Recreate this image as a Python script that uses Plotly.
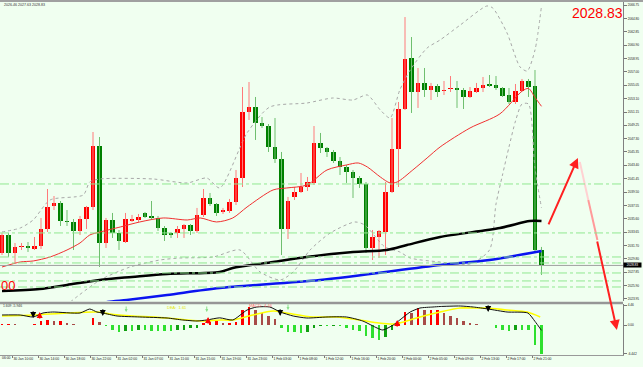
import plotly.graph_objects as go

# ---------------- data ----------------
bars = list(range(84))
opens = [2030.64, 2033.26, 2030.64, 2031.52, 2031.66, 2031.23, 2031.66, 2034.14, 2037.49, 2037.92,
         2035.30, 2035.16, 2033.85, 2035.59, 2037.34, 2046.22, 2032.10, 2035.45, 2033.56, 2032.24,
         2035.30, 2035.45, 2036.47, 2036.03, 2035.74, 2034.28, 2033.56, 2033.56, 2034.14, 2034.72,
         2033.85, 2036.18, 2038.65, 2037.78, 2036.61, 2036.76, 2038.07, 2041.56, 2051.17, 2051.90,
         2049.57, 2049.13, 2046.08, 2044.33, 2034.14, 2038.80, 2039.52, 2040.25, 2040.84, 2046.66,
         2045.93, 2045.35, 2044.04, 2043.16, 2042.44, 2041.56, 2040.69, 2031.37, 2032.97, 2033.70,
         2039.52, 2045.79, 2051.61, 2059.04, 2054.08, 2055.40, 2054.38, 2054.96, 2054.23, 2054.52,
         2054.67, 2054.38, 2053.36, 2054.08, 2054.67, 2055.25, 2055.10, 2054.67, 2053.65, 2052.63,
         2054.23, 2055.69, 2054.96, 2031.08]
highs = [2033.56, 2033.56, 2032.10, 2032.10, 2032.24, 2032.97, 2035.74, 2039.96, 2038.94, 2038.21,
         2036.90, 2035.59, 2036.03, 2037.49, 2048.26, 2047.53, 2035.74, 2036.47, 2033.99, 2036.47,
         2036.18, 2036.32, 2036.61, 2038.21, 2036.03, 2034.57, 2033.70, 2034.57, 2034.86, 2034.86,
         2037.20, 2039.96, 2039.38, 2037.92, 2037.20, 2038.51, 2042.73, 2054.81, 2055.54, 2053.36,
         2050.44, 2049.42, 2050.30, 2045.35, 2038.80, 2040.25, 2042.29, 2041.71, 2049.13, 2048.12,
         2046.08, 2045.64, 2044.62, 2043.46, 2042.73, 2041.85, 2040.98, 2033.99, 2033.99, 2040.98,
         2050.30, 2052.63, 2065.00, 2062.09, 2057.58, 2057.58, 2055.40, 2055.25, 2055.69, 2056.41,
         2055.69, 2054.67, 2054.81, 2055.40, 2056.27, 2056.56, 2056.41, 2054.81, 2054.67, 2055.25,
         2055.98, 2055.98, 2057.29, 2031.52]
lows = [2030.35, 2030.06, 2029.19, 2031.08, 2030.79, 2031.08, 2031.23, 2033.70, 2036.90, 2034.57,
        2034.57, 2031.08, 2033.26, 2034.14, 2036.90, 2028.60, 2031.37, 2032.83, 2031.08, 2032.10,
        2035.16, 2035.16, 2035.74, 2035.45, 2033.85, 2032.39, 2032.83, 2032.83, 2032.83, 2033.26,
        2033.56, 2035.88, 2037.49, 2036.03, 2036.32, 2036.47, 2037.63, 2040.25, 2050.01, 2047.10,
        2048.84, 2045.35, 2043.75, 2030.35, 2032.68, 2038.36, 2039.38, 2039.67, 2040.54, 2045.20,
        2044.62, 2043.75, 2042.00, 2040.84, 2038.65, 2040.11, 2030.64, 2029.62, 2029.91, 2030.35,
        2039.38, 2040.25, 2051.46, 2051.03, 2051.76, 2053.36, 2052.92, 2053.36, 2053.65, 2054.08,
        2051.76, 2051.61, 2053.21, 2053.94, 2054.08, 2054.81, 2054.38, 2053.36, 2052.34, 2052.34,
        2054.23, 2053.36, 2030.79, 2027.44]
closes = [2033.26, 2030.64, 2031.52, 2031.66, 2031.37, 2031.66, 2034.14, 2037.34, 2037.92, 2035.30,
          2035.16, 2033.85, 2035.59, 2037.34, 2046.22, 2032.10, 2035.45, 2033.56, 2032.39, 2035.59,
          2035.59, 2035.88, 2035.88, 2035.74, 2034.28, 2033.26, 2033.26, 2034.14, 2034.72, 2033.85,
          2036.18, 2038.65, 2037.78, 2036.47, 2036.90, 2038.07, 2041.56, 2051.17, 2051.90, 2049.57,
          2049.13, 2046.08, 2044.33, 2034.14, 2038.21, 2039.52, 2040.25, 2040.98, 2046.66, 2045.93,
          2045.35, 2044.04, 2043.16, 2042.44, 2041.56, 2040.69, 2031.37, 2032.97, 2033.85, 2039.52,
          2045.79, 2051.61, 2058.89, 2054.08, 2055.40, 2054.38, 2054.96, 2054.08, 2054.38, 2054.67,
          2054.38, 2053.36, 2054.23, 2054.67, 2055.10, 2054.96, 2054.67, 2053.50, 2052.63, 2054.23,
          2055.69, 2054.81, 2031.08, 2028.83]

# moving averages / bands: (bar position, price)
ma_red_x = [0, 2.8, 4.8, 7.4, 10, 12, 13.5, 15.1, 18.2, 21.2, 24.8, 28.5, 30.5, 33, 35.5, 37.7, 41.7,
            43.8, 46.9, 50, 53, 54.8, 56.2, 58.2, 59.7, 60.8, 63.2, 65.4, 67.4, 72, 76.6, 80, 81, 82, 83]
ma_red_y = [2028.6, 2029.33, 2029.48, 2030.06, 2031.08, 2032.10, 2033.26, 2033.70, 2034.43, 2035.16,
            2035.74, 2035.45, 2035.74, 2035.16, 2035.74, 2037.34, 2039.82, 2040.11, 2040.54, 2042.73,
            2043.46, 2043.75, 2043.17, 2041.71, 2040.84, 2040.98, 2042.73, 2044.48, 2046.08, 2048.84,
            2050.9, 2054.2, 2054.6, 2053.3, 2052.0]
ma_black_x = [0, 5.8, 10, 15, 20, 25.4, 33.5, 35.5, 41.7, 46.9, 54, 59.2, 62.3, 67.4, 76.6, 81.2, 83]
ma_black_y = [2025.11, 2025.40, 2025.99, 2026.71, 2027.15, 2027.59, 2027.88, 2028.46, 2029.33, 2030.06,
              2030.79, 2031.08, 2031.81, 2032.97, 2034.28, 2035.30, 2035.30]
ma_blue_x = [12, 16.2, 19.2, 25.4, 33.5, 48.9, 67.4, 75, 83]
ma_blue_y = [2022.5, 2023.51, 2023.80, 2024.53, 2025.55, 2026.71, 2028.90, 2029.62, 2030.93]
bb_up_x = [0, 2.8, 4.8, 7.4, 12.5, 13.5, 15.1, 23.2, 28.5, 31.5, 33.5, 37.7, 41.2, 46.9, 50.9, 54,
           56.2, 58.2, 59.7, 61.2, 62.8, 65.4, 67.4, 70.5, 74.6, 75.5, 77.7, 79.7, 80.8, 82, 83]
bb_up_y = [2033.70, 2034.28, 2035.45, 2038.36, 2039.09, 2040.98, 2041.42, 2041.42, 2040.84, 2041.56,
           2040.11, 2048.12, 2051.90, 2052.48, 2053.21, 2052.92, 2053.65, 2051.46, 2050.30, 2054.38,
           2057.29, 2060.49, 2061.66, 2063.84, 2066.61, 2066.32, 2062.68, 2057.73, 2057.14, 2060.20,
           2066.60]
bb_lo_x = [10.5, 15.1, 19.7, 24.3, 27.4, 32.5, 36.6, 39.7, 42.8, 44.8, 47.4, 50.5, 54.3, 55.8, 58.9,
           61.2, 62.8, 67.4, 72, 75, 76, 77, 78, 79, 80, 81, 82, 83]
bb_lo_y = [2023.51, 2026.71, 2028.60, 2029.62, 2029.91, 2030.06, 2031.08, 2027.88, 2026.71, 2027.88,
           2031.08, 2033.56, 2035.16, 2034.72, 2031.52, 2030.79, 2029.91, 2029.33, 2029.04, 2031.08,
           2037.78, 2042.00, 2046.08, 2049.86, 2052.34, 2052.34, 2043.00, 2037.20]

level_prices = [2040.69, 2033.56, 2030.06, 2029.19, 2027.73, 2026.57, 2025.69]
bid_price = 2028.83

# MACD sub-window
hist_values = [0.2, 0.2, 0.15, 0.1, 0.1, 0.15, 0.9, 1.1, 0.9, 0.9, 0.5, 0.25, 0.1, 0.1, 1.5, 0.75,
               -0.3, -1.2, -1.5, -1.3, -1.3, -1.1, -1.1, -1.3, -1.3, -1.3, -1.3, -1.2, -1.1, -0.75,
               -0.6, 0.4, 0.6, 1.0, 0.35, 0.4, 0.7, 3.3, 4.1, 3.3, 2.7, 1.9, 1.3, -0.7, -1.5, -1.5,
               -1.7, -1.5, -0.7, -0.3, -0.3, -0.2, -0.3, -0.6, -1.1, -1.3, -2.5, -3.0, -3.3, -2.7,
               -1.1, 0.7, 3.0, 2.6, 3.7, 3.3, 3.3, 3.3, 2.6, 1.9, 1.5, 1.0, 0.5, 0.2, 0.1, -0.1,
               -0.7, -1.1, -1.3, -1.1, -1.1, -1.1, -4.5, -6.5]
macd_x = [0, 2.8, 4.8, 6.3, 7.8, 12, 13.5, 14.6, 15.5, 17.7, 21.2, 25.4, 27.8, 30, 31.5, 33.5, 35.5,
          37.7, 39.2, 41.2, 42.8, 44.8, 46.9, 50, 53, 55.5, 57.7, 58.6, 60.2, 61.2, 62.8, 64.3, 66.3,
          67.4, 70.5, 72.5, 74.8, 77.7, 80.9, 82, 83]
macd_y = [2.23, 2.23, 1.79, 2.68, 2.90, 2.68, 3.57, 2.90, 2.68, 2.01, 1.79, 1.56, 1.12, 0.89, 1.12,
          1.6, 1.12, 3.35, 4.02, 4.02, 2.90, 2.01, 1.56, 1.79, 1.79, 0.89, -0.67, -1.12, 0.0, 1.12,
          2.90, 3.79, 4.02, 4.13, 4.24, 4.02, 3.57, 2.90, 2.68, 0.8, -1.2]
signal_x = [0, 4.8, 10, 14.6, 16.6, 20.2, 25.4, 30.5, 33.5, 35.5, 38.6, 41.7, 43.8, 47.8, 51.5, 55,
            58, 60.2, 61.2, 64.3, 67.4, 70.5, 72.5, 74.6, 77.7, 80.8, 82.8]
signal_y = [2.01, 2.23, 2.68, 2.90, 2.46, 2.01, 1.56, 0.89, 1.12, 1.12, 2.23, 3.13, 2.68, 1.79, 1.79,
            1.12, 0.45, 0.22, 0.45, 1.79, 2.90, 3.79, 3.79, 3.79, 3.35, 2.90, 1.79]
sell_marks = [(4.8, 1.56), (15.5, 2.0), (42.8, 2.0), (74.8, 2.9)]
buy_marks = [(5.8, 2.9), (31.7, 1.79), (60.8, 1.12)]
hint_marks = [(19.1, 2.9), (31.5, 2.9), (44.0, 3.35)]

price_tick_text = ["2066.75", "2064.80", "2062.85", "2060.90", "2058.95", "2057.00", "2055.05",
                   "2053.10", "2051.15", "2049.25", "2047.30", "2045.35", "2043.40", "2041.45",
                   "2039.50", "2037.55", "2035.60", "2033.65", "2031.70", "2029.80", "2027.85",
                   "2025.90", "2023.95"]
macd_tick_vals = [4.46, 0.0, -6.442]
macd_tick_text = ["4.46", "0.00", "-6.442"]
time_labels = ["30 Jan 10:00", "30 Jan 14:00", "30 Jan 18:00", "30 Jan 22:00", "31 Jan 02:00",
               "31 Jan 07:00", "31 Jan 11:00", "31 Jan 15:00", "31 Jan 19:00", "31 Jan 23:00",
               "1 Feb 03:00", "1 Feb 08:00", "1 Feb 12:00", "1 Feb 16:00", "1 Feb 20:00",
               "2 Feb 00:00", "2 Feb 05:00", "2 Feb 09:00", "2 Feb 13:00", "2 Feb 17:00",
               "2 Feb 21:00"]
first_label_bar = 1.6
bars_per_label = 4

# ---------------- layout helpers ----------------
W_PLOT, H_PLOT = 623.0, 355.0
def px(x):
    return x / W_PLOT
def py(y):
    return 1 - y / H_PLOT

FONT = "Liberation Sans, Arial, sans-serif"
BG = "#F0FFF0"

fig = go.Figure()

# bands (dotted grey)
for bx, byv in ((bb_up_x, bb_up_y), (bb_lo_x, bb_lo_y)):
    fig.add_trace(go.Scatter(x=bx, y=byv, mode="lines", line=dict(color="#A8A8A8", width=1, dash="dot",
                  shape="spline", smoothing=0.7), xaxis="x", yaxis="y", hoverinfo="skip"))

# wicks
up_idx = [i for i in bars if closes[i] >= opens[i]]
dn_idx = [i for i in bars if closes[i] < opens[i]]
def wick_xy(idx):
    xs, ys = [], []
    for i in idx:
        xs += [i, i, None]
        ys += [lows[i], highs[i], None]
    return xs, ys
wx, wy = wick_xy(up_idx)
fig.add_trace(go.Scatter(x=wx, y=wy, mode="lines", line=dict(color="#FF7A7A", width=1), xaxis="x", yaxis="y"))
wx, wy = wick_xy(dn_idx)
fig.add_trace(go.Scatter(x=wx, y=wy, mode="lines", line=dict(color="#6FBF6F", width=1), xaxis="x", yaxis="y"))

# bodies
fig.add_trace(go.Bar(x=up_idx, base=[opens[i] for i in up_idx],
                     y=[max(closes[i] - opens[i], 0.13) for i in up_idx], width=0.68,
                     marker=dict(color="#FF0000", line=dict(width=0)), xaxis="x", yaxis="y"))
fig.add_trace(go.Bar(x=dn_idx, base=[closes[i] for i in dn_idx],
                     y=[max(opens[i] - closes[i], 0.13) for i in dn_idx], width=0.68,
                     marker=dict(color="#008000", line=dict(width=0)), xaxis="x", yaxis="y"))

# moving averages
fig.add_trace(go.Scatter(x=ma_red_x, y=ma_red_y, mode="lines",
              line=dict(color="#F03030", width=1, shape="spline", smoothing=0.8), xaxis="x", yaxis="y"))
fig.add_trace(go.Scatter(x=ma_black_x, y=ma_black_y, mode="lines",
              line=dict(color="#000000", width=2.5, shape="spline", smoothing=0.8), xaxis="x", yaxis="y"))
fig.add_trace(go.Scatter(x=ma_blue_x, y=ma_blue_y, mode="lines",
              line=dict(color="#0A14F0", width=2.5, shape="spline", smoothing=0.8), xaxis="x", yaxis="y"))

# pale part of the forecast down line
fig.add_trace(go.Scatter(x=[88.9, 90.2], y=[2043.89, 2038.36], mode="lines",
              line=dict(color="#FFD2D2", width=2), xaxis="x", yaxis="y"))
fig.add_trace(go.Scatter(x=[90.2, 91.6], y=[2038.36, 2032.54], mode="lines",
              line=dict(color="#FF9A9A", width=2), xaxis="x", yaxis="y"))

# MACD histogram
hist_colors = []
for i, v in enumerate(hist_values):
    prev = hist_values[i - 1] if i > 0 else v
    if v >= 0:
        hist_colors.append("#FF0000" if v >= prev else "#A84C48")
    else:
        hist_colors.append("#2EE02E" if v <= prev else "#10A010")
fig.add_trace(go.Bar(x=bars, y=hist_values, width=0.32, marker=dict(color=hist_colors, line=dict(width=0)),
                     xaxis="x2", yaxis="y2"))
fig.add_trace(go.Scatter(x=signal_x, y=signal_y, mode="lines",
              line=dict(color="#FFFF00", width=1.6, shape="spline", smoothing=0.8), xaxis="x2", yaxis="y2"))
fig.add_trace(go.Scatter(x=macd_x, y=macd_y, mode="lines",
              line=dict(color="#111111", width=1, shape="spline", smoothing=0.6), xaxis="x2", yaxis="y2"))

shapes = []
for p in level_prices:
    shapes.append(dict(type="line", xref="paper", yref="y", x0=0, x1=1, y0=p, y1=p,
                       line=dict(color="#90E890", width=1, dash="dashdot")))
shapes.append(dict(type="line", xref="paper", yref="y", x0=0, x1=1, y0=bid_price, y1=bid_price,
                   line=dict(color="#A0A0A0", width=1)))
shapes.append(dict(type="line", xref="paper", yref="paper", x0=0, x1=1, y0=py(303), y1=py(303),
                   line=dict(color="#969696", width=2.5)))
shapes.append(dict(type="rect", xref="paper", yref="paper", x0=0, x1=643 / W_PLOT, y0=py(2), y1=1.01,
                   fillcolor="#A0A0A0", line=dict(width=0)))

ann = []
ann.append(dict(xref="paper", yref="paper", x=px(2), y=py(5), text="2026.46 2027.63 2028.83",
                showarrow=False, xanchor="left", yanchor="middle", font=dict(size=3.6, color="#333", family=FONT)))
ann.append(dict(xref="paper", yref="paper", x=px(597), y=py(13), text="2028.83", showarrow=False,
                xanchor="center", yanchor="middle", font=dict(size=14, color="#FF0000", family=FONT)))
ann.append(dict(xref="paper", yref="paper", x=0, y=py(285), text="00", showarrow=False,
                xanchor="left", yanchor="middle", borderpad=0,
                font=dict(size=13, color="#FF0000", family=FONT)))
ann.append(dict(xref="paper", yref="y", x=1.0, y=bid_price, text="2028.83", showarrow=False,
                xanchor="left", yanchor="middle", bgcolor="#000000", width=17, height=4, borderpad=0,
                font=dict(size=3.2, color="#FFFFFF", family=FONT)))
ann.append(dict(xref="paper", yref="paper", x=px(1), y=py(306), text="1.609 -5.946", showarrow=False,
                xanchor="left", yanchor="middle", font=dict(size=3.4, color="#333", family=FONT)))
ann.append(dict(xref="paper", yref="paper", x=px(165), y=py(307), text="DEA:  1.61", showarrow=False,
                xanchor="left", yanchor="middle", font=dict(size=4, color="#E6E600", family=FONT)))
ann.append(dict(xref="paper", yref="paper", x=px(247), y=py(305), text="MACD:  4.46", showarrow=False,
                xanchor="left", yanchor="middle", font=dict(size=4, color="#FF7070", family=FONT)))
ann.append(dict(xref="paper", yref="paper", x=0, y=py(358), text="06:00", showarrow=False,
                xanchor="left", yanchor="middle", font=dict(size=3.4, color="#222", family=FONT)))
# forecast arrows
ann.append(dict(xref="x", yref="y", x=88.6, y=2044.48, ax=-30, ay=68, showarrow=True, arrowhead=2,
                arrowsize=1, arrowwidth=2, arrowcolor="#FF2020", text=""))
ann.append(dict(xref="x2", yref="y2", x=94.6, y=-1.12, ax=-20, ay=-90, showarrow=True, arrowhead=2,
                arrowsize=1, arrowwidth=2, arrowcolor="#FF2020", text=""))
# MACD signal marks
for bx, v in sell_marks:
    ann.append(dict(xref="x2", yref="y2", x=bx, y=v, ax=0, ay=-8, showarrow=True, arrowhead=2,
                    arrowsize=0.8, arrowwidth=1.5, arrowcolor="#000000", text=""))
for bx, v in buy_marks:
    ann.append(dict(xref="x2", yref="y2", x=bx, y=v, ax=0, ay=8, showarrow=True, arrowhead=2,
                    arrowsize=0.8, arrowwidth=1.5, arrowcolor="#FF0000", text=""))
for bx, v in hint_marks:
    ann.append(dict(xref="x2", yref="y2", x=bx, y=v, ax=0, ay=-7, showarrow=True, arrowhead=2,
                    arrowsize=0.6, arrowwidth=1, arrowcolor="#8AE08A", text=""))

tick_pos = [first_label_bar + bars_per_label * k for k in range(len(time_labels))]
price_tick_vals = [float(t) for t in price_tick_text]

fig.update_layout(
    width=643, height=367, margin=dict(l=0, r=20, t=0, b=12),
    paper_bgcolor=BG, plot_bgcolor=BG, showlegend=False, barmode="overlay", bargap=0,
    font=dict(family=FONT), hovermode=False,
    xaxis=dict(domain=[0, 1], range=[-0.31, 95.54], anchor="y", showticklabels=False, showgrid=False,
               zeroline=False, ticks="", fixedrange=True),
    xaxis2=dict(domain=[0, 1], matches="x", anchor="y2", tickmode="array", tickvals=tick_pos,
                ticktext=time_labels, ticks="outside", ticklen=2, tickcolor="#777", tickangle=0,
                ticklabelposition="outside right", tickfont=dict(size=3.4, color="#222"),
                showgrid=False, zeroline=False, showline=True, linecolor="#999", linewidth=1),
    yaxis=dict(domain=[py(301), py(2)], range=[2023.65, 2067.19], side="right", anchor="x",
               tickmode="array", tickvals=price_tick_vals, ticktext=price_tick_text, ticks="outside",
               ticklen=3, tickcolor="#777", tickfont=dict(size=3.2, color="#222"), showgrid=False,
               zeroline=False, showline=True, linecolor="#808080", linewidth=1),
    yaxis2=dict(domain=[0, py(304)], range=[-6.70, 4.69], side="right", anchor="x2",
                tickmode="array", tickvals=macd_tick_vals, ticktext=macd_tick_text, ticks="outside",
                ticklen=3, tickcolor="#777", tickfont=dict(size=3.2, color="#222"), showgrid=False,
                zeroline=False, showline=True, linecolor="#808080", linewidth=1),
    shapes=shapes, annotations=ann,
)

fig.write_html("out.html", config={"displayModeBar": False, "staticPlot": True},
               post_script="document.body.style.margin='0';document.body.style.padding='0';"
                           "document.body.style.overflow='hidden';")
